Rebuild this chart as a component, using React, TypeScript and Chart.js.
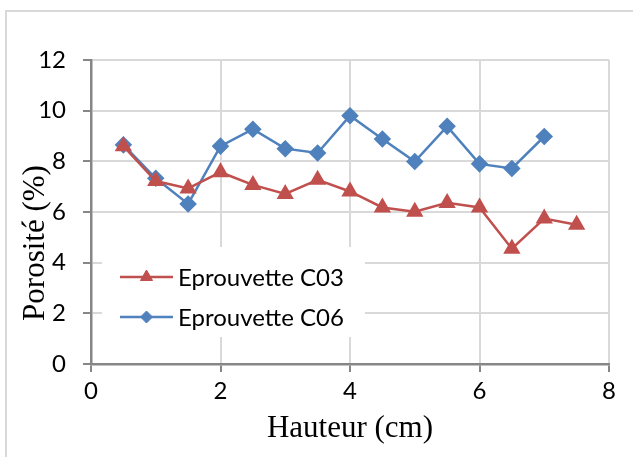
import React, { useEffect, useRef } from 'react';
import { Chart, registerables } from 'chart.js';
import { drawPoint } from 'chart.js/helpers';

Chart.register(...registerables);

// ---- data ----
const heightsC03 = [0.5, 1, 1.5, 2, 2.5, 3, 3.5, 4, 4.5, 5, 5.5, 6, 6.5, 7, 7.5];
const porosityC03 = [8.6, 7.22, 6.93, 7.57, 7.07, 6.71, 7.27, 6.81, 6.18, 6.01, 6.36, 6.18, 4.55, 5.74, 5.5];
const heightsC06 = [0.5, 1, 1.5, 2, 2.5, 3, 3.5, 4, 4.5, 5, 5.5, 6, 6.5, 7];
const porosityC06 = [8.65, 7.33, 6.32, 8.6, 9.27, 8.5, 8.33, 9.8, 8.88, 7.99, 9.38, 7.9, 7.72, 8.98];
const seriesLabels = ['Eprouvette C03', 'Eprouvette C06'];
const xRange = [0, 8];
const yRange = [0, 12];
const tickStep = 2;
const xTitle = 'Hauteur (cm)';
const yTitle = 'Porosité (%)';

const RED = '#C0504D';
const BLUE = '#4F81BD';
const GRID = '#D9D9D9';
const AXIS = '#868686';
const TICK_FONT = { family: 'Lato, "DejaVu Sans", sans-serif', size: 24 };
const TITLE_FONT = { family: '"Liberation Serif", "Times New Roman", serif', size: 31, lineHeight: 1 };

const insideLegend = {
  id: 'insideLegend',
  afterDraw(chart: any) {
    const { ctx, chartArea } = chart;
    const left = chartArea.left + 11;
    const top = chartArea.top + 187;
    const w = 263;
    const h = 90;
    ctx.save();
    ctx.fillStyle = '#ffffff';
    ctx.fillRect(left, top, w, h);
    chart.data.datasets.forEach((ds: any, i: number) => {
      const y = top + 30 + i * 40;
      const x0 = left + 18;
      const x1 = left + 71;
      ctx.strokeStyle = ds.borderColor;
      ctx.lineWidth = 2.5;
      ctx.beginPath();
      ctx.moveTo(x0, y);
      ctx.lineTo(x1, y);
      ctx.stroke();
      ctx.fillStyle = ds.pointBackgroundColor;
      ctx.strokeStyle = ds.pointBorderColor;
      ctx.lineWidth = 1;
      drawPoint(ctx, { pointStyle: ds.pointStyle, radius: ds.pointStyle === 'triangle' ? 7 : 6, rotation: 0, borderWidth: 1 }, (x0 + x1) / 2, y);
      ctx.fillStyle = '#000000';
      ctx.font = `${TICK_FONT.size}px ${TICK_FONT.family}`;
      ctx.textBaseline = 'middle';
      ctx.textAlign = 'left';
      ctx.fillText(ds.label, x1 + 5, y + 1);
    });
    ctx.restore();
  },
};

export default function App() {
  const canvasRef = useRef<HTMLCanvasElement | null>(null);

  useEffect(() => {
    document.body.style.margin = '0';
    const canvas = canvasRef.current;
    if (!canvas) return;
    const chart = new Chart(canvas, {
      type: 'line',
      data: {
        datasets: [
          {
            label: seriesLabels[0],
            data: heightsC03.map((x, i) => ({ x, y: porosityC03[i] })),
            borderColor: RED,
            backgroundColor: RED,
            pointBackgroundColor: RED,
            pointBorderColor: RED,
            pointStyle: 'triangle',
            pointRadius: 7.5,
            borderWidth: 2.5,
            tension: 0,
          },
          {
            label: seriesLabels[1],
            data: heightsC06.map((x, i) => ({ x, y: porosityC06[i] })),
            borderColor: BLUE,
            backgroundColor: BLUE,
            pointBackgroundColor: BLUE,
            pointBorderColor: BLUE,
            pointStyle: 'rectRot',
            pointRadius: 7,
            borderWidth: 2.5,
            tension: 0,
          },
        ],
      },
      options: {
        animation: false,
        responsive: false,
        maintainAspectRatio: false,
        layout: { padding: { left: 0, top: 60, right: 24, bottom: 0 } },
        plugins: {
          legend: { display: false },
          tooltip: { enabled: false },
        },
        scales: {
          x: {
            type: 'linear',
            min: xRange[0],
            max: xRange[1],
            ticks: { stepSize: tickStep, color: '#000', font: TICK_FONT, padding: 5 },
            grid: { color: GRID, lineWidth: 2, tickColor: AXIS, tickLength: 8, tickWidth: 2 },
            border: { color: AXIS, width: 2.5 },
            title: { display: true, text: xTitle, color: '#000', font: TITLE_FONT, padding: { top: 0, bottom: 13 } },
            afterFit: (s: any) => { s.height = 93; },
          },
          y: {
            type: 'linear',
            min: yRange[0],
            max: yRange[1],
            ticks: { stepSize: tickStep, color: '#000', font: TICK_FONT, padding: 17 },
            grid: { color: GRID, lineWidth: 2, tickColor: AXIS, tickLength: 8, tickWidth: 2 },
            border: { color: AXIS, width: 2.5 },
            title: { display: true, text: yTitle + '        ', color: '#000', font: TITLE_FONT, padding: { top: 20, bottom: 0 } },
            afterFit: (s: any) => { s.width = 91; },
          },
        },
      },
      plugins: [insideLegend],
    });
    return () => chart.destroy();
  }, []);

  return (
    <div style={{ position: 'fixed', left: 0, top: 0, width: 633, height: 457, background: '#fff' }}>
      <div style={{ position: 'absolute', left: 5, top: 10, right: 0, bottom: 0, borderLeft: `2px solid ${GRID}`, borderTop: `2px solid ${GRID}` }} />
      <canvas ref={canvasRef} width={633} height={457} style={{ position: 'absolute', left: 0, top: 0, width: 633, height: 457 }} />
    </div>
  );
}
